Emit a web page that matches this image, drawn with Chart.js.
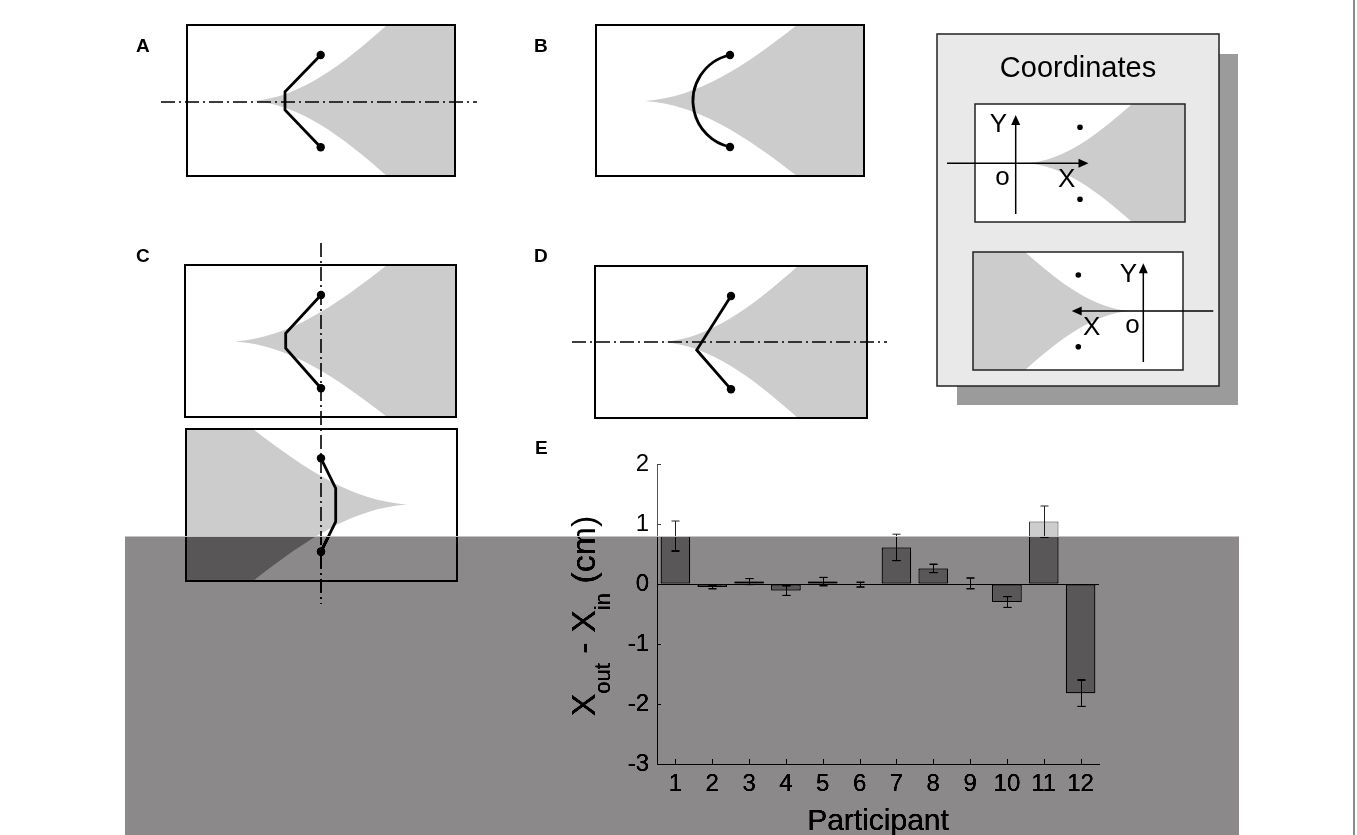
<!DOCTYPE html>
<html>
<head>
<meta charset="utf-8">
<script src="https://cdn.jsdelivr.net/npm/chart.js@4/dist/chart.umd.min.js"></script>
<style>
html,body{margin:0;padding:0;background:#fff;overflow:hidden;}
canvas{display:block;}
</style>
</head>
<body>
<canvas id="c" width="1357" height="835"></canvas>
<script>
// ---- data (panel E) ----
const participants = ['1','2','3','4','5','6','7','8','9','10','11','12'];
const meanDiff = [0.80, -0.05, 0.04, -0.11, 0.04, -0.01, 0.61, 0.26, 0.01, -0.30, 1.04, -1.82];
const errDiff  = [0.25, 0.03, 0.05, 0.08, 0.07, 0.04, 0.22, 0.07, 0.09, 0.09, 0.26, 0.22];
const yTickValues = [2, 1, 0, -1, -2, -3];
const xTitle = 'Participant';
const panelLetters = ['A','B','C','D','E'];

const FONT = '"Liberation Sans", Arial, sans-serif';

// ---- helpers for the schematic panels ----
function strokeRect(ctx, r, lw, col){
  ctx.save(); ctx.lineWidth = lw; ctx.strokeStyle = col || '#000';
  ctx.strokeRect(r.x1, r.y1, r.x2 - r.x1, r.y2 - r.y1); ctx.restore();
}
function fillRect(ctx, r, col){
  ctx.save(); ctx.fillStyle = col; ctx.fillRect(r.x1, r.y1, r.x2 - r.x1, r.y2 - r.y1); ctx.restore();
}
function cusp(ctx, r, tipX, cy, edgeX){
  const dir = Math.sign(edgeX - tipX), L = Math.abs(edgeX - tipX);
  const far = dir > 0 ? r.x2 : r.x1;
  const ht = cy - r.y1, hb = r.y2 - cy;
  ctx.save();
  ctx.beginPath(); ctx.rect(r.x1, r.y1, r.x2 - r.x1, r.y2 - r.y1); ctx.clip();
  ctx.beginPath();
  ctx.moveTo(tipX, cy);
  ctx.bezierCurveTo(tipX + dir*0.35*L, cy - 0.05*ht, tipX + dir*0.65*L, cy - 0.45*ht, edgeX, r.y1);
  ctx.lineTo(far, r.y1); ctx.lineTo(far, r.y2); ctx.lineTo(edgeX, r.y2);
  ctx.bezierCurveTo(tipX + dir*0.65*L, cy + 0.45*hb, tipX + dir*0.35*L, cy + 0.05*hb, tipX, cy);
  ctx.closePath();
  ctx.fillStyle = '#cccccc'; ctx.fill();
  ctx.restore();
}
function dashDot(ctx, x1, y1, x2, y2){
  ctx.save(); ctx.strokeStyle = '#000'; ctx.lineWidth = 1.6;
  ctx.setLineDash([14, 4, 2, 4]);
  ctx.beginPath(); ctx.moveTo(x1, y1); ctx.lineTo(x2, y2); ctx.stroke(); ctx.restore();
}
function poly(ctx, pts){
  ctx.save(); ctx.strokeStyle = '#000'; ctx.lineWidth = 2.8; ctx.lineJoin = 'miter';
  ctx.beginPath(); ctx.moveTo(pts[0][0], pts[0][1]);
  for (let i = 1; i < pts.length; i++) ctx.lineTo(pts[i][0], pts[i][1]);
  ctx.stroke(); ctx.restore();
}
function dot(ctx, x, y, r){
  ctx.save(); ctx.fillStyle = '#000'; ctx.beginPath(); ctx.arc(x, y, r, 0, Math.PI*2); ctx.fill(); ctx.restore();
}
function arrow(ctx, x1, y1, x2, y2){
  const a = Math.atan2(y2 - y1, x2 - x1), hl = 10, hw = 4.5;
  ctx.save(); ctx.strokeStyle = '#000'; ctx.fillStyle = '#000'; ctx.lineWidth = 1.5;
  ctx.beginPath(); ctx.moveTo(x1, y1); ctx.lineTo(x2 - hl*0.8*Math.cos(a), y2 - hl*0.8*Math.sin(a)); ctx.stroke();
  ctx.beginPath(); ctx.moveTo(x2, y2);
  ctx.lineTo(x2 - hl*Math.cos(a) + hw*Math.sin(a), y2 - hl*Math.sin(a) - hw*Math.cos(a));
  ctx.lineTo(x2 - hl*Math.cos(a) - hw*Math.sin(a), y2 - hl*Math.sin(a) + hw*Math.cos(a));
  ctx.closePath(); ctx.fill(); ctx.restore();
}
function txt(ctx, s, x, y, font, align){
  ctx.save(); ctx.fillStyle = '#000'; ctx.font = font; ctx.textAlign = align || 'left';
  ctx.textBaseline = 'alphabetic'; ctx.fillText(s, x, y); ctx.restore();
}

function drawSchematics(ctx){
  const bold = 'bold 19px ' + FONT;
  const DR = 4.2;
  // Panel A
  const rA = {x1:187, y1:25, x2:455, y2:176};
  fillRect(ctx, rA, '#fff'); cusp(ctx, rA, 253, 101, 387); strokeRect(ctx, rA, 2);
  dashDot(ctx, 161, 102, 477, 102);
  poly(ctx, [[320.7,55],[285,91.7],[285,110],[320.7,147.3]]);
  dot(ctx, 320.7, 55, DR); dot(ctx, 320.7, 147.3, DR);
  txt(ctx, panelLetters[0], 136, 52, bold);

  // Panel B
  const rB = {x1:596, y1:25, x2:864, y2:176};
  fillRect(ctx, rB, '#fff'); cusp(ctx, rB, 645, 101, 797); strokeRect(ctx, rB, 2);
  ctx.save(); ctx.strokeStyle = '#000'; ctx.lineWidth = 2.8; ctx.beginPath();
  ctx.arc(740.1, 101, 47.1, -1.787, 1.787, true); ctx.stroke(); ctx.restore();
  dot(ctx, 730, 55, DR); dot(ctx, 730, 147, DR);
  txt(ctx, panelLetters[1], 534, 52, bold);

  // Panel C top
  const rC1 = {x1:185, y1:265, x2:456, y2:417};
  fillRect(ctx, rC1, '#fff'); cusp(ctx, rC1, 235, 341.5, 387); strokeRect(ctx, rC1, 2);
  // Panel C bottom
  const rC2 = {x1:186, y1:429, x2:457, y2:581};
  fillRect(ctx, rC2, '#fff'); cusp(ctx, rC2, 407, 504.5, 253); strokeRect(ctx, rC2, 2);
  dashDot(ctx, 321, 243, 321, 604);
  poly(ctx, [[321,295],[285.7,333.3],[285.7,348.3],[321,388.3]]);
  dot(ctx, 321, 295, DR); dot(ctx, 321, 388.3, DR);
  poly(ctx, [[321,458.3],[335.7,488.3],[335.7,521.7],[321,551.7]]);
  dot(ctx, 321, 458.3, DR); dot(ctx, 321, 551.7, DR);
  txt(ctx, panelLetters[2], 136, 262, bold);

  // Panel D
  const rD = {x1:595, y1:266, x2:867, y2:418};
  fillRect(ctx, rD, '#fff'); cusp(ctx, rD, 663, 342, 798); strokeRect(ctx, rD, 2);
  dashDot(ctx, 572, 342, 887, 342);
  poly(ctx, [[731,296],[696.7,350],[731,389.3]]);
  dot(ctx, 731, 296, DR); dot(ctx, 731, 389.3, DR);
  txt(ctx, panelLetters[3], 534, 262, bold);

  // Coordinates panel
  fillRect(ctx, {x1:957, y1:54, x2:1238, y2:405}, '#9b9b9b');
  const rK = {x1:937, y1:34, x2:1219, y2:386};
  fillRect(ctx, rK, '#e9e9e9'); strokeRect(ctx, rK, 1.5, '#222');
  txt(ctx, 'Coordinates', 1078, 77, '29px ' + FONT, 'center');
  const rK1 = {x1:975, y1:104, x2:1185, y2:222};
  fillRect(ctx, rK1, '#fff'); cusp(ctx, rK1, 1027, 163.3, 1132); strokeRect(ctx, rK1, 1.5, '#222');
  arrow(ctx, 947, 163.3, 1088.5, 163.3);
  arrow(ctx, 1015.7, 214, 1015.7, 115);
  dot(ctx, 1080, 127.3, 2.8); dot(ctx, 1080, 199.3, 2.8);
  const f25 = '26px ' + FONT;
  txt(ctx, 'Y', 998.3, 131.7, f25, 'center');
  txt(ctx, 'o', 1002.5, 185, f25, 'center');
  txt(ctx, 'X', 1066.7, 186.7, f25, 'center');
  const rK2 = {x1:973, y1:252, x2:1183, y2:370};
  fillRect(ctx, rK2, '#fff'); cusp(ctx, rK2, 1130, 311, 1025); strokeRect(ctx, rK2, 1.5, '#222');
  arrow(ctx, 1213.3, 311, 1071.7, 311);
  arrow(ctx, 1143.3, 362, 1143.3, 263.3);
  dot(ctx, 1078.3, 275, 2.8); dot(ctx, 1078.3, 346.7, 2.8);
  txt(ctx, 'Y', 1128.3, 281.7, f25, 'center');
  txt(ctx, 'X', 1091.7, 335, f25, 'center');
  txt(ctx, 'o', 1132.5, 333.3, f25, 'center');

  // E label
  txt(ctx, panelLetters[4], 535, 454, bold);
}

const figurePlugin = {
  id: 'figure',
  beforeDraw(chart){
    const ctx = chart.ctx;
    ctx.save(); ctx.fillStyle = '#fff'; ctx.fillRect(0, 0, chart.width, chart.height); ctx.restore();
    drawSchematics(ctx);
  },
  afterDatasetsDraw(chart){
    const ctx = chart.ctx, xs = chart.scales.x, ys = chart.scales.y;
    const meta = chart.getDatasetMeta(0);
    // error bars
    ctx.save(); ctx.strokeStyle = '#222'; ctx.lineWidth = 1;
    meta.data.forEach((bar, i) => {
      const x = Math.round(bar.x) + 0.5;
      const yt = ys.getPixelForValue(meanDiff[i] + errDiff[i]);
      const yb = ys.getPixelForValue(meanDiff[i] - errDiff[i]);
      ctx.beginPath();
      ctx.moveTo(x, yt); ctx.lineTo(x, yb);
      ctx.moveTo(x - 4, yt); ctx.lineTo(x + 4, yt);
      ctx.moveTo(x - 4, yb); ctx.lineTo(x + 4, yb);
      ctx.stroke();
    });
    ctx.restore();
    // inward tick marks
    ctx.save(); ctx.strokeStyle = '#444'; ctx.lineWidth = 1;
    xs.ticks.forEach((t, i) => {
      const x = Math.round(xs.getPixelForTick(i)) + 0.5;
      ctx.beginPath(); ctx.moveTo(x, xs.top); ctx.lineTo(x, xs.top - 5); ctx.stroke();
    });
    yTickValues.forEach(v => {
      const y = Math.round(ys.getPixelForValue(v)) + 0.5;
      ctx.beginPath(); ctx.moveTo(ys.right, y); ctx.lineTo(ys.right + 4, y); ctx.stroke();
    });
    ctx.restore();
  },
  afterDraw(chart){
    const ctx = chart.ctx, xs = chart.scales.x, ys = chart.scales.y;
    // x axis title
    txt(ctx, xTitle, (xs.left + xs.right) / 2, 830, '30px ' + FONT, 'center');
    // y axis title with subscripts
    const big = '34px ' + FONT, small = '22px ' + FONT;
    const parts = [['X', big, 0], ['out', small, 15], [' - ', big, 0], ['X', big, 0], ['in', small, 15], [' (cm)', big, 0]];
    ctx.save();
    let total = 0;
    parts.forEach(p => { ctx.font = p[1]; total += ctx.measureText(p[0]).width; });
    ctx.translate(595, (ys.top + ys.bottom) / 2 + 2);
    ctx.rotate(-Math.PI / 2);
    ctx.fillStyle = '#000'; ctx.textBaseline = 'alphabetic'; ctx.textAlign = 'left';
    let cx = -total / 2;
    parts.forEach(p => { ctx.font = p[1]; ctx.fillText(p[0], cx, p[2]); cx += ctx.measureText(p[0]).width; });
    ctx.restore();

    // darkening band over the lower part of the figure
    const x0 = 125, y0 = 536, w = 1239 - 125, h = chart.height - 536;
    const img = ctx.getImageData(x0, y0, w, h), d = img.data;
    for (let i = 0; i < d.length; i += 4){
      d[i]   = Math.max(0, d[i]   - 115);
      d[i+1] = Math.max(0, d[i+1] - 118);
      d[i+2] = Math.max(0, d[i+2] - 117);
    }
    ctx.putImageData(img, x0, y0);
    ctx.save();
    ctx.fillStyle = '#c4c4c4'; ctx.fillRect(x0, y0, w, 1);
    ctx.fillStyle = '#8a8a8a'; ctx.fillRect(1353, 0, 2, chart.height);
    ctx.restore();
  }
};

new Chart(document.getElementById('c'), {
  type: 'bar',
  data: {
    labels: participants,
    datasets: [{
      data: meanDiff,
      backgroundColor: '#cdcdcd',
      borderColor: '#333333',
      borderWidth: 1,
      borderSkipped: false,
      barPercentage: 0.8,
      categoryPercentage: 1.0
    }]
  },
  options: {
    responsive: false,
    animation: false,
    devicePixelRatio: 1,
    events: [],
    layout: { padding: { left: 597, right: 258, top: 464, bottom: 31 } },
    plugins: { legend: { display: false }, tooltip: { enabled: false }, title: { display: false } },
    scales: {
      x: {
        type: 'category',
        offset: true,
        grid: { display: false, drawTicks: false },
        border: { display: true, color: '#444', width: 1 },
        ticks: { color: '#000', font: { family: FONT, size: 24 }, padding: 6, maxRotation: 0, autoSkip: false },
        afterFit(s){ s.height = 40; }
      },
      y: {
        min: -3, max: 2,
        grid: { display: true, drawTicks: false, lineWidth: 1,
                color: c => (c.tick && c.tick.value === 0) ? '#444' : 'rgba(0,0,0,0)' },
        border: { display: true, color: '#555', width: 1 },
        ticks: { stepSize: 1, color: '#000', font: { family: FONT, size: 24 }, padding: 8 },
        afterBuildTicks(s){ s.ticks = yTickValues.map(v => ({ value: v })); },
        afterFit(s){ s.width = 60; }
      }
    }
  },
  plugins: [figurePlugin]
});
</script>
</body>
</html>
